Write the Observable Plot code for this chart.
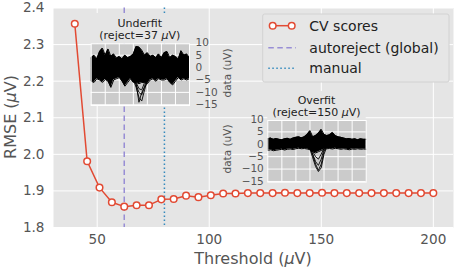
<!DOCTYPE html>
<html><head><meta charset="utf-8">
<script src="https://cdn.jsdelivr.net/npm/d3@7"></script>
<script src="https://cdn.jsdelivr.net/npm/@observablehq/plot@0.6"></script>
<style>
body{margin:0;background:#fff;}
#wrap{position:relative;width:457px;height:269px;font-family:"DejaVu Sans",sans-serif;}
#wrap svg{position:absolute;background:transparent;}
</style></head><body><div id="wrap"></div>
<script>
// ---- main series ----
const thresholds = [40, 45.52, 51.03, 56.55, 62.07, 67.59, 73.10, 78.62, 84.14, 89.66, 95.17, 100.69, 106.21, 111.72, 117.24, 122.76, 128.28, 133.79, 139.31, 144.83, 150.34, 155.86, 161.38, 166.90, 172.41, 177.93, 183.45, 188.97, 194.48, 200];
const rmse = [2.357, 1.981, 1.909, 1.869, 1.857, 1.861, 1.861, 1.877, 1.878, 1.887, 1.883, 1.888, 1.893, 1.893, 1.894, 1.894, 1.894, 1.895, 1.894, 1.894, 1.895, 1.894, 1.894, 1.894, 1.894, 1.894, 1.894, 1.894, 1.894, 1.894];
const autorejectThreshold = 62.07;
const manualThreshold = 80;
const xTicks = [50, 100, 150, 200];
const yTicks = [1.8, 1.9, 2.0, 2.1, 2.2, 2.3, 2.4];
const legendLabels = ["CV scores", "autoreject (global)", "manual"];

// ---- insets ----
const underfitReject = 37;
const overfitReject = 150;
const insetTimes = [-200,-180,-160,-140,-120,-100,-80,-60,-40,-20,0,20,40,60,80,100,120,140,160,180,200,220,240,260,280,300,320,340,360,380,400,420,440,460,480,500];
const insetTicks = [10, 5, 0, -5, -10, -15];
const insetGridTimes = [-100, 0, 100, 200, 300, 400];
const underfitUpper = [4,5,3.5,6.5,7.8,5,7.5,4.5,5.5,3.8,4.5,3.5,5,4,4.5,5.5,8.5,8.3,7,5,6,4.5,5,4,5.5,4,6,6.5,4,5,4.5,3.5,6.8,5,5.5,4];
const underfitLower = [-5.5,-6,-4.5,-5,-6,-4.8,-5.5,-8,-5,-4.5,-4,-5.5,-7.5,-6,-4.5,-6,-6,-6.5,-6,-6,-6.5,-5,-4.5,-5.5,-4.5,-5,-5,-4.5,-6,-7,-5.5,-4,-5,-4.5,-5,-4.5];
const underfitDipTimes = [80,100,120,140,160,180,200,220];
const underfitDipA = [-3,-5,-8,-12,-13.5,-9,-5,-3];
const underfitDipB = [-2,-4,-7,-10,-11,-7.5,-4,-2];
const underfitDipC = [-3,-5.5,-6.5,-14,-10,-8,-6,-3];
const underfitDipD = [-2,-4,-6,-8.5,-9,-6,-3,-2];
const overfitUpper = [2.2,2.5,2,2.3,2,1.8,2.2,2.4,2,2.5,2.8,3,2.6,3,4,5.5,3,3.5,4.5,6,4,3.5,3.8,4.8,3.5,3,2.8,2.5,2.2,2.3,2,2.2,1.8,2.2,2,2];
const overfitLower = [-2.5,-2.2,-2.6,-2.4,-2.2,-2,-2.3,-2,-1.9,-2.1,-1.8,-1.6,-1.8,-1.7,-1.9,-2.2,-3,-3.5,-3,-2.5,-2,-1.8,-1.7,-1.9,-1.6,-1.8,-2,-1.8,-2,-2.2,-1.9,-2,-1.8,-2,-1.9,-2];
const overfitDipTimes = [100,120,140,160,180,200,220];
const overfitDipA = [-1,-3,-5,-6,-4,-1.5,0];
const overfitDipB = [-1.5,-4,-7,-8.5,-6,-2,0];
const overfitDipC = [-1,-4.5,-8,-10.5,-8,-3,-0.5];
const overfitDipD = [-2,-5.5,-9,-11,-9.5,-4,-1];

const COL_LINE = "#E24A33", COL_AUTO = "#988ED5", COL_MAN = "#348ABD";
const FONT = '"DejaVu Sans", sans-serif';
const wrap = document.getElementById("wrap");

const rows = thresholds.map((x, i) => ({x, y: rmse[i]}));
const main = Plot.plot({
  width: 457, height: 269, marginLeft: 53, marginRight: 4, marginTop: 7.5, marginBottom: 42,
  style: {fontFamily: FONT, fontSize: "13.6px", color: "#555", background: "transparent", overflow: "visible"},
  x: {domain: [30.5, 209], ticks: xTicks, tickSize: 0, tickPadding: 7, label: null},
  y: {domain: [1.8, 2.4], ticks: yTicks, tickFormat: d3.format(".1f"), tickSize: 0, tickPadding: 9, label: null},
  marks: [
    Plot.frame({fill: "#E5E5E5", stroke: "none"}),
    Plot.ruleX(xTicks, {stroke: "white", strokeWidth: 1}),
    Plot.ruleY(yTicks, {stroke: "white", strokeWidth: 1}),
    Plot.ruleX([autorejectThreshold], {stroke: COL_AUTO, strokeWidth: 1.5, strokeDasharray: "5.5,3.5"}),
    Plot.ruleX([manualThreshold], {stroke: COL_MAN, strokeWidth: 1.5, strokeDasharray: "1.5,2.5"}),
    Plot.line(rows, {x: "x", y: "y", stroke: COL_LINE, strokeWidth: 1.5}),
    Plot.dot(rows, {x: "x", y: "y", r: 3.3, fill: "white", stroke: COL_LINE, strokeWidth: 1.5})
  ]
});
main.style.left = "0px"; main.style.top = "0px";
wrap.appendChild(main);

const ms = d3.select(main);
function muLabel(sel, pre, post) {
  sel.append("tspan").text(pre);
  sel.append("tspan").attr("font-style", "italic").text("μ");
  sel.append("tspan").text(post);
}
muLabel(ms.append("text").attr("x", 253).attr("y", 264).attr("text-anchor", "middle")
  .attr("fill", "#555").style("font-size", "16px"), "Threshold (", "V)");
muLabel(ms.append("text").attr("transform", "translate(15.5,117) rotate(-90)").attr("text-anchor", "middle")
  .attr("fill", "#555").style("font-size", "16px"), "RMSE (", "V)");

// legend
const lg = ms.append("g").attr("text-anchor", "start");
lg.append("rect").attr("x", 262.7).attr("y", 14).attr("width", 186.3).attr("height", 68).attr("rx", 2)
  .attr("fill", "#E6E6E6").attr("stroke", "#D2D2D2").attr("stroke-width", 1);
const ly = [25.7, 47.7, 68.3];
lg.append("line").attr("x1", 272.7).attr("x2", 291.7).attr("y1", ly[0]).attr("y2", ly[0]).attr("stroke", COL_LINE).attr("stroke-width", 1.5);
[272.7, 291.7].forEach(cx => lg.append("circle").attr("cx", cx).attr("cy", ly[0]).attr("r", 3.3)
  .attr("fill", "white").attr("stroke", COL_LINE).attr("stroke-width", 1.5));
lg.append("line").attr("x1", 268.3).attr("x2", 296).attr("y1", ly[1]).attr("y2", ly[1]).attr("stroke", COL_AUTO)
  .attr("stroke-width", 1.5).attr("stroke-dasharray", "5.5,3.5");
lg.append("line").attr("x1", 268.3).attr("x2", 296).attr("y1", ly[2]).attr("y2", ly[2]).attr("stroke", COL_MAN)
  .attr("stroke-width", 1.5).attr("stroke-dasharray", "1.5,2.5");
legendLabels.forEach((t, i) => lg.append("text").attr("x", 309.3).attr("y", ly[i] + 5).attr("fill", "#222")
  .attr("text-anchor", "start").style("font-size", "14px").text(t));

// ---- inset builder ----
const fmtTick = d => d < 0 ? "\u2212" + (-d) : String(d);
function inset({upper, lower, dipTimes, dips, left, top, width, height, mL, mR, mT, mB, axis, pad, title, reject, labelX, labelY, titleY}) {
  const band = insetTimes.map((t, i) => ({t, hi: upper[i], lo: lower[i]}));
  const dipRows = [];
  dips.forEach((arr, k) => arr.forEach((v, i) => dipRows.push({t: dipTimes[i], v, k})));
  const svg = Plot.plot({
    width, height, marginLeft: mL, marginRight: mR, marginTop: mT, marginBottom: mB,
    style: {fontFamily: FONT, fontSize: "10.5px", color: "#555", background: "transparent", overflow: "visible"},
    x: {domain: [-200, 500], axis: null},
    y: {domain: [-15.3, 9.6], axis, ticks: insetTicks, tickFormat: fmtTick, tickSize: 0, tickPadding: pad, label: null},
    marks: [
      Plot.frame({fill: "#CBCBCB", stroke: "none"}),
      Plot.ruleX(insetGridTimes, {stroke: "white", strokeWidth: 1}),
      Plot.ruleY(insetTicks.filter(v => v < 9.6 && v > -15.3), {stroke: "white", strokeWidth: 1}),
      Plot.areaY(band, {x: "t", y1: "lo", y2: "hi", fill: "black"}),
      Plot.line(band, {x: "t", y: "hi", stroke: "black", strokeWidth: 1}),
      Plot.line(band, {x: "t", y: "lo", stroke: "black", strokeWidth: 1}),
      Plot.line(dipRows, {x: "t", y: "v", z: "k", stroke: "black", strokeWidth: 0.9}),
      Plot.frame({stroke: "white", strokeWidth: 1})
    ]
  });
  svg.style.left = left + "px"; svg.style.top = top + "px";
  wrap.appendChild(svg);
  const s = d3.select(svg);
  const fw = width - mL - mR;
  const cover = document.createElementNS("http://www.w3.org/2000/svg", "rect");
  cover.setAttribute("x", mL); cover.setAttribute("y", 3);
  cover.setAttribute("width", fw); cover.setAttribute("height", mT - 3);
  cover.setAttribute("fill", "#E5E5E5");
  const st = svg.querySelector("style");
  svg.insertBefore(cover, st ? st.nextSibling : svg.firstChild);
  const cx = mL + fw / 2;
  s.append("text").attr("x", cx).attr("y", titleY).attr("text-anchor", "middle").attr("fill", "#222")
    .style("font-size", "11px").text(title);
  muLabel(s.append("text").attr("x", cx).attr("y", titleY + 12.3).attr("text-anchor", "middle").attr("fill", "#222")
    .style("font-size", "11px"), `(reject=${reject} `, "V)");
  s.append("text").attr("transform", `translate(${labelX},${labelY}) rotate(-90)`).attr("text-anchor", "middle")
    .attr("dominant-baseline", "central").attr("fill", "#555").style("font-size", "10.5px").text("data (uV)");
}

inset({upper: underfitUpper, lower: underfitLower, dipTimes: underfitDipTimes,
  dips: [underfitDipA, underfitDipB, underfitDipC, underfitDipD],
  left: 86, top: 10, width: 150, height: 100, mL: 4.7, mR: 47, mT: 33.3, mB: 5,
  axis: "right", pad: 6, title: "Underfit", reject: underfitReject, labelX: 140.7, labelY: 63, titleY: 16.7});
inset({upper: overfitUpper, lower: overfitLower, dipTimes: overfitDipTimes,
  dips: [overfitDipA, overfitDipB, overfitDipC, overfitDipD],
  left: 215, top: 88, width: 155, height: 98, mL: 52.3, mR: 4.3, mT: 32, mB: 4.3,
  axis: "left", pad: 4, title: "Overfit", reject: overfitReject, labelX: 11.7, labelY: 61, titleY: 15.7});
</script></body></html>
